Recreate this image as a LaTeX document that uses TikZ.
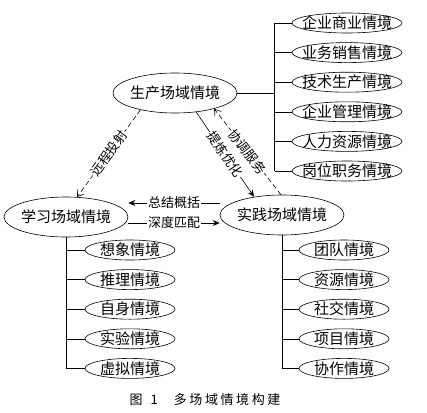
\documentclass[tikz,border=0pt]{standalone}
\usepackage{fontspec}
\setmainfont{Noto Sans CJK SC}
\newfontfamily\capfont[LetterSpace=20]{Noto Sans CJK SC}
\usepackage{tikz}
\usetikzlibrary{shapes.geometric,arrows.meta,positioning}

\begin{document}
\begin{tikzpicture}[
    x=1pt, y=-1pt,
    font=\fontsize{15pt}{18pt}\selectfont,
    node distance=9pt,
    line width=0.6pt,
    scene/.style={draw, ellipse, inner sep=0pt, minimum width=124pt, minimum height=40pt, label={center:#1}},
    sub/.style={draw, ellipse, inner sep=0pt, minimum height=20pt, label={center:#1}},
    wide/.style={minimum width=110pt},
    narrow/.style={minimum width=90pt},
    tag/.style={font=\fontsize{13pt}{15pt}\selectfont, fill=white, inner sep=1pt},
    arr/.style={-{Stealth[length=7pt,width=6pt]}},
    darr/.style={-{Straight Barb[length=6pt,width=8pt]}, dash pattern=on 5pt off 3pt}
]
\useasboundingbox (0,0) rectangle (427,412);

\node[scene=生产场域情境] (prod) at (175,93) {};
\node[scene=学习场域情境] (study) at (66,217) {};
\node[scene=实践场域情境] (prac) at (282,215) {};

\node[sub=企业商业情境, wide] (p1) at (347,23) {};
\node[sub=业务销售情境, wide, below=of p1] (p2) {};
\node[sub=技术生产情境, wide, below=of p2] (p3) {};
\node[sub=企业管理情境, wide, below=of p3] (p4) {};
\node[sub=人力资源情境, wide, below=of p4] (p5) {};
\node[sub=岗位职务情境, wide, below=of p5] (p6) {};

\node[sub=想象情境, narrow] (s1) at (130,250) {};
\node[sub=推理情境, narrow, below=of s1] (s2) {};
\node[sub=自身情境, narrow, below=of s2] (s3) {};
\node[sub=实验情境, narrow, below=of s3] (s4) {};
\node[sub=虚拟情境, narrow, below=of s4] (s5) {};

\node[sub=团队情境, narrow] (r1) at (344,250) {};
\node[sub=资源情境, narrow, below=of r1] (r2) {};
\node[sub=社交情境, narrow, below=of r2] (r3) {};
\node[sub=项目情境, narrow, below=of r3] (r4) {};
\node[sub=协作情境, narrow, below=of r4] (r5) {};

\coordinate (ptrunk) at ([xshift=-17pt]p1.west);
\draw (prod.east) -- (prod.east -| ptrunk);
\draw (ptrunk) -- (ptrunk |- p6.west);
\foreach \i in {1,...,6}
  \draw (p\i.west) -- (p\i.west -| ptrunk);

\draw (study.south) -- (study.south |- s5.west);
\draw (prac.south) -- (prac.south |- r5.west);
\foreach \i in {1,...,5} {
  \draw (s\i.west) -- (s\i.west -| study.south);
  \draw (r\i.west) -- (r\i.west -| prac.south);
}

\draw[darr] (prod.206) -- node[tag, sloped] {远程投射} (study.61);
\draw[arr] (prod.318) -- node[tag, sloped] {提炼优化} (prac.147);
\draw[darr] (prac.93) -- node[tag, sloped] {协调服务} (prod.338);
\draw[arr] ([yshift=12pt]prac.west) -- node[tag] {总结概括} ([yshift=12pt]prac.west -| study.east);
\draw[arr] ([yshift=-6pt]study.east) -- node[tag] {深度匹配} ([yshift=-6pt]study.east -| prac.west);

\node (cap) at (205,400) {\capfont\fontsize{13pt}{15pt}\selectfont 图\hspace{8pt}1\hspace{16pt}多场域情境构建};
\end{tikzpicture}
\end{document}
